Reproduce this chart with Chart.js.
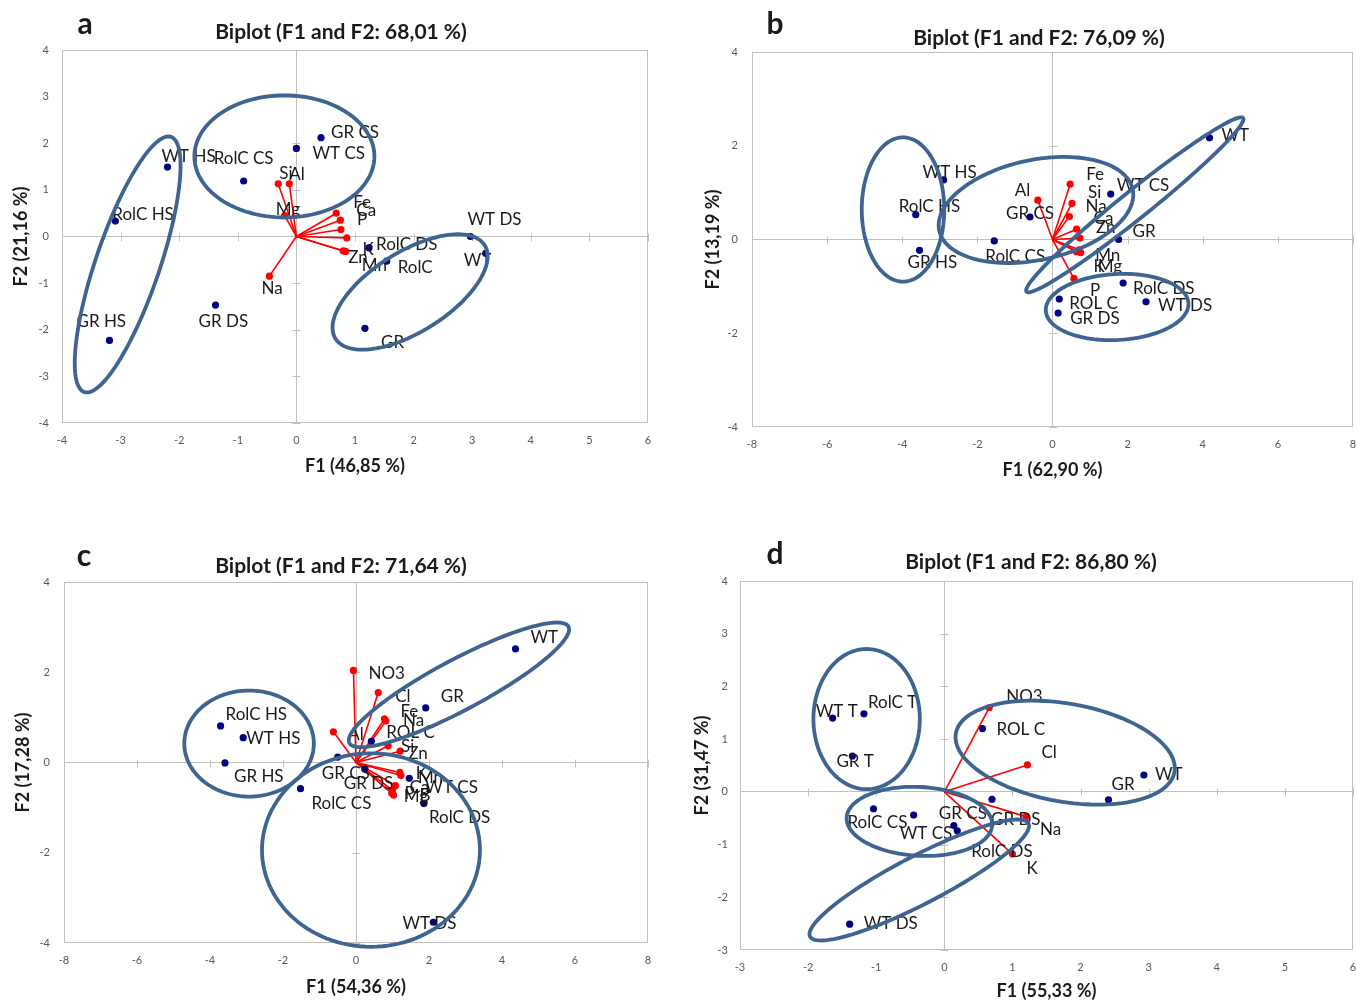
<!DOCTYPE html>
<html>
<head>
<meta charset="utf-8">
<script src="https://cdn.jsdelivr.net/npm/chart.js@4.4.0/dist/chart.umd.min.js"></script>
<style>
  body { margin: 0; background: #fff; width: 1356px; height: 1002px; position: relative; overflow: hidden; }
  canvas { position: absolute; }
</style>
</head>
<body>
<canvas id="chartA" width="678" height="500" style="left:0;top:0"></canvas>
<canvas id="chartB" width="685" height="500" style="left:690px;top:0"></canvas>
<canvas id="chartC" width="678" height="482" style="left:0;top:520px"></canvas>
<canvas id="chartD" width="685" height="482" style="left:690px;top:520px"></canvas>
<script>
// ---- panel a ----
const obsLabelsA = ['GR CS', 'WT CS', 'RolC CS', 'WT HS', 'RolC HS', 'GR HS', 'GR DS', 'RolC DS', 'RolC', 'WT DS', 'WT', 'GR'];
const obsXA = [0.42, 0.00, -0.90, -2.20, -3.09, -3.19, -1.38, 1.24, 1.54, 2.97, 3.23, 1.17];
const obsYA = [2.12, 1.89, 1.19, 1.49, 0.33, -2.23, -1.47, -0.24, -0.53, 0.00, -0.36, -1.97];
const varLabelsA = ['Si', 'Al', 'Mg', 'Fe', 'Ca', 'P', 'Mn', 'Zn', 'K', 'Na'];
const varXA = [-0.31, -0.12, -0.20, 0.68, 0.75, 0.76, 0.86, 0.80, 0.84, -0.46];
const varYA = [1.13, 1.13, 0.45, 0.50, 0.35, 0.15, -0.03, -0.31, -0.32, -0.85];
// ellipse: centre x, centre y, then two half-axis vectors (data units)
const groupsA = [
  [-2.88, -0.60, 0.740, 2.737, -0.517, 0.221],
  [-0.205, 1.717, 1.536, 0, 0, 1.309],
  [1.94, -1.19, 1.273, 1.001, -0.362, 0.728]
];

// ---- panel b ----
const obsLabelsB = ['WT', 'WT HS', 'WT CS', 'RolC HS', 'GR CS', 'RolC CS', 'GR HS', 'GR', 'RolC DS', 'WT DS', 'ROL C', 'GR DS'];
const obsXB = [4.18, -2.90, 1.55, -3.64, -0.60, -1.55, -3.54, 1.76, 1.88, 2.49, 0.18, 0.15];
const obsYB = [2.17, 1.27, 0.97, 0.53, 0.48, -0.03, -0.23, 0.00, -0.93, -1.33, -1.27, -1.57];
const varLabelsB = ['Al', 'Fe', 'Si', 'Na', 'Ca', 'Zn', 'Mn', 'K', 'Mg', 'P'];
const varXB = [-0.39, 0.47, 0.52, 0.45, 0.64, 0.73, 0.71, 0.64, 0.75, 0.57];
const varYB = [0.84, 1.18, 0.77, 0.49, 0.22, 0.03, -0.22, -0.26, -0.28, -0.83];
const groupsB = [
  [-3.98, 0.64, 1.098, 0, 0, 1.539],
  [-0.44, 0.63, 2.575, 0.439, -0.277, 1.043],
  [2.19, 0.74, 2.884, 1.852, -0.233, 0.233],
  [1.72, -1.44, 1.899, 0.080, -0.046, 0.703]
];

// ---- panel c ----
const obsLabelsC = ['WT', 'GR', 'RolC HS', 'WT HS', 'GR HS', 'ROL C', 'GR CS', 'GR DS', 'RolC CS', 'WT CS', 'RolC DS', 'WT DS'];
const obsXC = [4.37, 1.91, -3.71, -3.09, -3.59, 0.42, -0.50, 0.24, -1.52, 1.46, 1.86, 2.12];
const obsYC = [2.52, 1.21, 0.81, 0.55, -0.01, 0.47, 0.12, -0.14, -0.58, -0.35, -0.91, -3.54];
const varLabelsC = ['NO3', 'Cl', 'Fe', 'Na', 'Al', 'Si', 'Zn', 'K', 'Mn', 'Ca', 'P', 'Mg', 'B'];
const varXC = [-0.07, 0.61, 0.78, 0.82, -0.62, 0.88, 1.21, 1.20, 1.23, 1.08, 1.00, 0.98, 1.03];
const varYC = [2.04, 1.55, 0.97, 0.92, 0.68, 0.37, 0.25, -0.22, -0.29, -0.51, -0.61, -0.68, -0.72];
const groupsC = [
  [-2.93, 0.42, 1.775, 0, 0, 1.175],
  [0.41, -1.94, 2.986, 0, 0, 2.144],
  [2.82, 1.72, 3.0, 1.29, -0.325, 0.496]
];

// ---- panel d ----
const obsLabelsD = ['WT T', 'RolC T', 'GR T', 'ROL C', 'WT', 'GR', 'RolC CS', 'WT CS', 'GR CS', 'GR DS', 'RolC DS', 'WT DS'];
const obsXD = [-1.64, -1.18, -1.35, 0.56, 2.93, 2.41, -1.04, -0.45, 0.14, 0.70, 0.19, -1.39];
const obsYD = [1.40, 1.48, 0.68, 1.20, 0.32, -0.15, -0.32, -0.44, -0.64, -0.14, -0.74, -2.51];
const varLabelsD = ['NO3', 'Cl', 'Na', 'K'];
const varXD = [0.66, 1.22, 1.20, 1.00];
const varYD = [1.60, 0.51, -0.47, -1.18];
const groupsD = [
  [-1.141, 1.381, 0.781, 0, 0, 1.330],
  [1.774, 0.744, 1.605, -0.366, 0.125, 0.916],
  [-0.366, -0.560, 1.068, -0.072, 0.026, 0.652],
  [-0.368, -1.672, 1.604, 1.074, -0.162, 0.404]
];

const navy = '#000080';
const red = '#ff0000';
const ringColor = '#3e6491';
const frameColor = '#c0c0c0';
const labelFont = '17px Lato';

function decor(p) {
  return {
    id: 'decor' + p.letter,
    beforeDatasetsDraw(chart) {
      const {ctx, chartArea: a, scales: {x, y}} = chart;
      ctx.save();
      ctx.strokeStyle = frameColor;
      ctx.lineWidth = 1;
      ctx.strokeRect(a.left + 0.5, a.top + 0.5, a.width - 1, a.height - 1);
      // small cross marks along the zero lines
      const x0 = Math.round(x.getPixelForValue(0)) + 0.5;
      const y0 = Math.round(y.getPixelForValue(0)) + 0.5;
      ctx.beginPath();
      x.ticks.forEach(t => {
        if (t.value === 0) return;
        const px = Math.round(x.getPixelForValue(t.value)) + 0.5;
        ctx.moveTo(px, y0 - 4); ctx.lineTo(px, y0 + 4);
      });
      y.ticks.forEach(t => {
        if (t.value === 0) return;
        const py = Math.round(y.getPixelForValue(t.value)) + 0.5;
        ctx.moveTo(x0 - 4, py); ctx.lineTo(x0 + 4, py);
      });
      ctx.stroke();
      ctx.restore();
    },
    afterDatasetsDraw(chart) {
      const {ctx, scales: {x, y}} = chart;
      ctx.save();
      ctx.font = labelFont;
      ctx.fillStyle = '#1a1a1a';
      ctx.textAlign = 'left';
      ctx.textBaseline = 'middle';
      const obsMeta = chart.getDatasetMeta(0);
      p.obsLabels.forEach((t, i) => {
        const pt = obsMeta.data[i];
        const o = p.obsOff[i];
        ctx.fillText(t, pt.x + o[0], pt.y + o[1]);
      });
      p.varLabels.forEach((t, i) => {
        const pt = chart.getDatasetMeta(i + 1).data[1];
        const o = p.varOff[i];
        ctx.fillText(t, pt.x + o[0], pt.y + o[1]);
      });
      // group ellipses
      ctx.strokeStyle = ringColor;
      ctx.lineWidth = 3.8;
      p.groups.forEach(g => {
        ctx.beginPath();
        for (let k = 0; k <= 120; k++) {
          const t = k / 120 * Math.PI * 2;
          const dx = g[0] + g[2] * Math.cos(t) + g[4] * Math.sin(t);
          const dy = g[1] + g[3] * Math.cos(t) + g[5] * Math.sin(t);
          const px = x.getPixelForValue(dx), py = y.getPixelForValue(dy);
          if (k === 0) ctx.moveTo(px, py); else ctx.lineTo(px, py);
        }
        ctx.closePath();
        ctx.stroke();
      });
      // title and panel letter
      ctx.fillStyle = '#1a1a1a';
      ctx.textAlign = 'center';
      ctx.font = 'bold 21px Lato';
      ctx.fillText(p.title, p.titlePos[0], p.titlePos[1]);
      ctx.font = 'bold 30px Lato';
      ctx.fillText(p.letter, p.letterPos[0], p.letterPos[1]);
      ctx.restore();
    }
  };
}

function makeBiplot(id, p) {
  const datasets = [{
    data: p.obsX.map((v, i) => ({x: v, y: p.obsY[i]})),
    showLine: false,
    pointRadius: 3.6,
    pointBackgroundColor: navy,
    pointBorderWidth: 0
  }];
  p.varX.forEach((v, i) => {
    datasets.push({
      data: [{x: 0, y: 0}, {x: v, y: p.varY[i]}],
      showLine: true,
      borderColor: red,
      borderWidth: 1.6,
      pointRadius: [0, 3.6],
      pointBackgroundColor: red,
      pointBorderWidth: 0
    });
  });
  const zeroLine = c => (c.tick && c.tick.value === 0) ? frameColor : 'rgba(0,0,0,0)';
  const tickFont = {family: 'Lato', size: 11};
  const axisFont = {family: 'Lato', size: 18, weight: 'bold'};
  return new Chart(document.getElementById(id), {
    type: 'scatter',
    data: {datasets},
    options: {
      responsive: false,
      animation: false,
      events: [],
      layout: {padding: p.pad},
      plugins: {legend: {display: false}, tooltip: {enabled: false}},
      scales: {
        x: {
          min: p.xr[0], max: p.xr[1],
          ticks: {stepSize: p.xr[2], autoSkip: false, font: tickFont, color: '#595959', padding: p.tickPad[0]},
          grid: {color: zeroLine, drawTicks: false},
          border: {display: false},
          title: {display: true, text: p.xTitle, font: axisFont, color: '#1a1a1a', padding: 0},
          afterFit: s => { s.height = p.xH; }
        },
        y: {
          min: p.yr[0], max: p.yr[1],
          ticks: {stepSize: p.yr[2], autoSkip: false, font: tickFont, color: '#595959', padding: p.tickPad[1]},
          grid: {color: zeroLine, drawTicks: false},
          border: {display: false},
          title: {display: true, text: p.yTitle, font: axisFont, color: '#1a1a1a', padding: 0},
          afterFit: s => { s.width = p.yW; }
        }
      }
    },
    plugins: [decor(p)]
  });
}

makeBiplot('chartA', {
  letter: 'a', letterPos: [85, 24], title: 'Biplot (F1 and F2: 68,01 %)', titlePos: [341, 32],
  xTitle: 'F1 (46,85 %)', yTitle: 'F2 (21,16 %)',
  xr: [-4, 6, 1], yr: [-4, 4, 1],
  pad: {left: 10, top: 50, right: 30, bottom: 23}, xH: 54, yW: 52, tickPad: [11, 13],
  obsLabels: obsLabelsA, obsX: obsXA, obsY: obsYA,
  obsOff: [[10, -5], [16, 5], [-30, -23], [-6, -11], [-3, -7], [-33, -19], [-17, 16], [7, -3], [11, 6], [-3, -17], [-22, 7], [16, 14]],
  varLabels: varLabelsA, varX: varXA, varY: varYA,
  varOff: [[1, -10], [0, -9], [-9, -6], [17, -11], [16, -10], [16, -10], [15, 28], [5, 7], [17, -2], [-8, 12]],
  groups: groupsA
});

makeBiplot('chartB', {
  letter: 'b', letterPos: [85, 24], title: 'Biplot (F1 and F2: 76,09 %)', titlePos: [349, 38],
  xTitle: 'F1 (62,90 %)', yTitle: 'F2 (13,19 %)',
  xr: [-8, 8, 2], yr: [-4, 4, 2],
  pad: {left: 12, top: 52, right: 22, bottom: 19}, xH: 54, yW: 50, tickPad: [11, 14],
  obsLabels: obsLabelsB, obsX: obsXB, obsY: obsYB,
  obsOff: [[12, -2], [-21, -7], [6, -9], [-17, -8], [-24, -3], [-9, 16], [-12, 12], [14, -8], [10, 5], [12, 4], [10, 4], [12, 5]],
  varLabels: varLabelsB, varX: varXB, varY: varYB,
  varOff: [[-23, -10], [16, -10], [16, -11], [16, -10], [17, -11], [16, -11], [16, 6], [17, 15], [17, 14], [16, 12]],
  groups: groupsB
});

makeBiplot('chartC', {
  letter: 'c', letterPos: [84, 36], title: 'Biplot (F1 and F2: 71,64 %)', titlePos: [341, 46],
  xTitle: 'F1 (54,36 %)', yTitle: 'F2 (17,28 %)',
  xr: [-8, 8, 2], yr: [-4, 4, 2],
  pad: {left: 12, top: 62, right: 30, bottom: 4}, xH: 55, yW: 52, tickPad: [11, 14],
  obsLabels: obsLabelsC, obsX: obsXC, obsY: obsYC,
  obsOff: [[15, -11], [15, -11], [5, -11], [3, 1], [9, 14], [15, -9], [-16, 16], [-21, 15], [11, 15], [16, 9], [5, 14], [-31, 1]],
  varLabels: varLabelsC, varX: varXC, varY: varYC,
  varOff: [[15, 3], [17, 4], [16, -7], [17, 0], [15, 3], [13, 1], [8, 2], [16, 1], [17, 2], [14, 2], [12, 3], [12, 3], [26, 1]],
  groups: groupsC
});

makeBiplot('chartD', {
  letter: 'd', letterPos: [85, 34], title: 'Biplot (F1 and F2: 86,80 %)', titlePos: [341, 42],
  xTitle: 'F1 (55,33 %)', yTitle: 'F2 (31,47 %)',
  xr: [-3, 6, 1], yr: [-3, 4, 1],
  pad: {left: 1, top: 61, right: 22, bottom: 0}, xH: 52, yW: 49, tickPad: [11, 12],
  obsLabels: obsLabelsD, obsX: obsXD, obsY: obsYD,
  obsOff: [[-17, -7], [4, -11], [-16, 6], [14, 1], [11, 0], [3, -15], [-26, 14], [-14, 18], [-15, -12], [-1, 20], [14, 21], [14, -1]],
  varLabels: varLabelsD, varX: varXD, varY: varYD,
  varOff: [[17, -11], [14, -12], [14, 13], [14, 14]],
  groups: groupsD
});
</script>
</body>
</html>
